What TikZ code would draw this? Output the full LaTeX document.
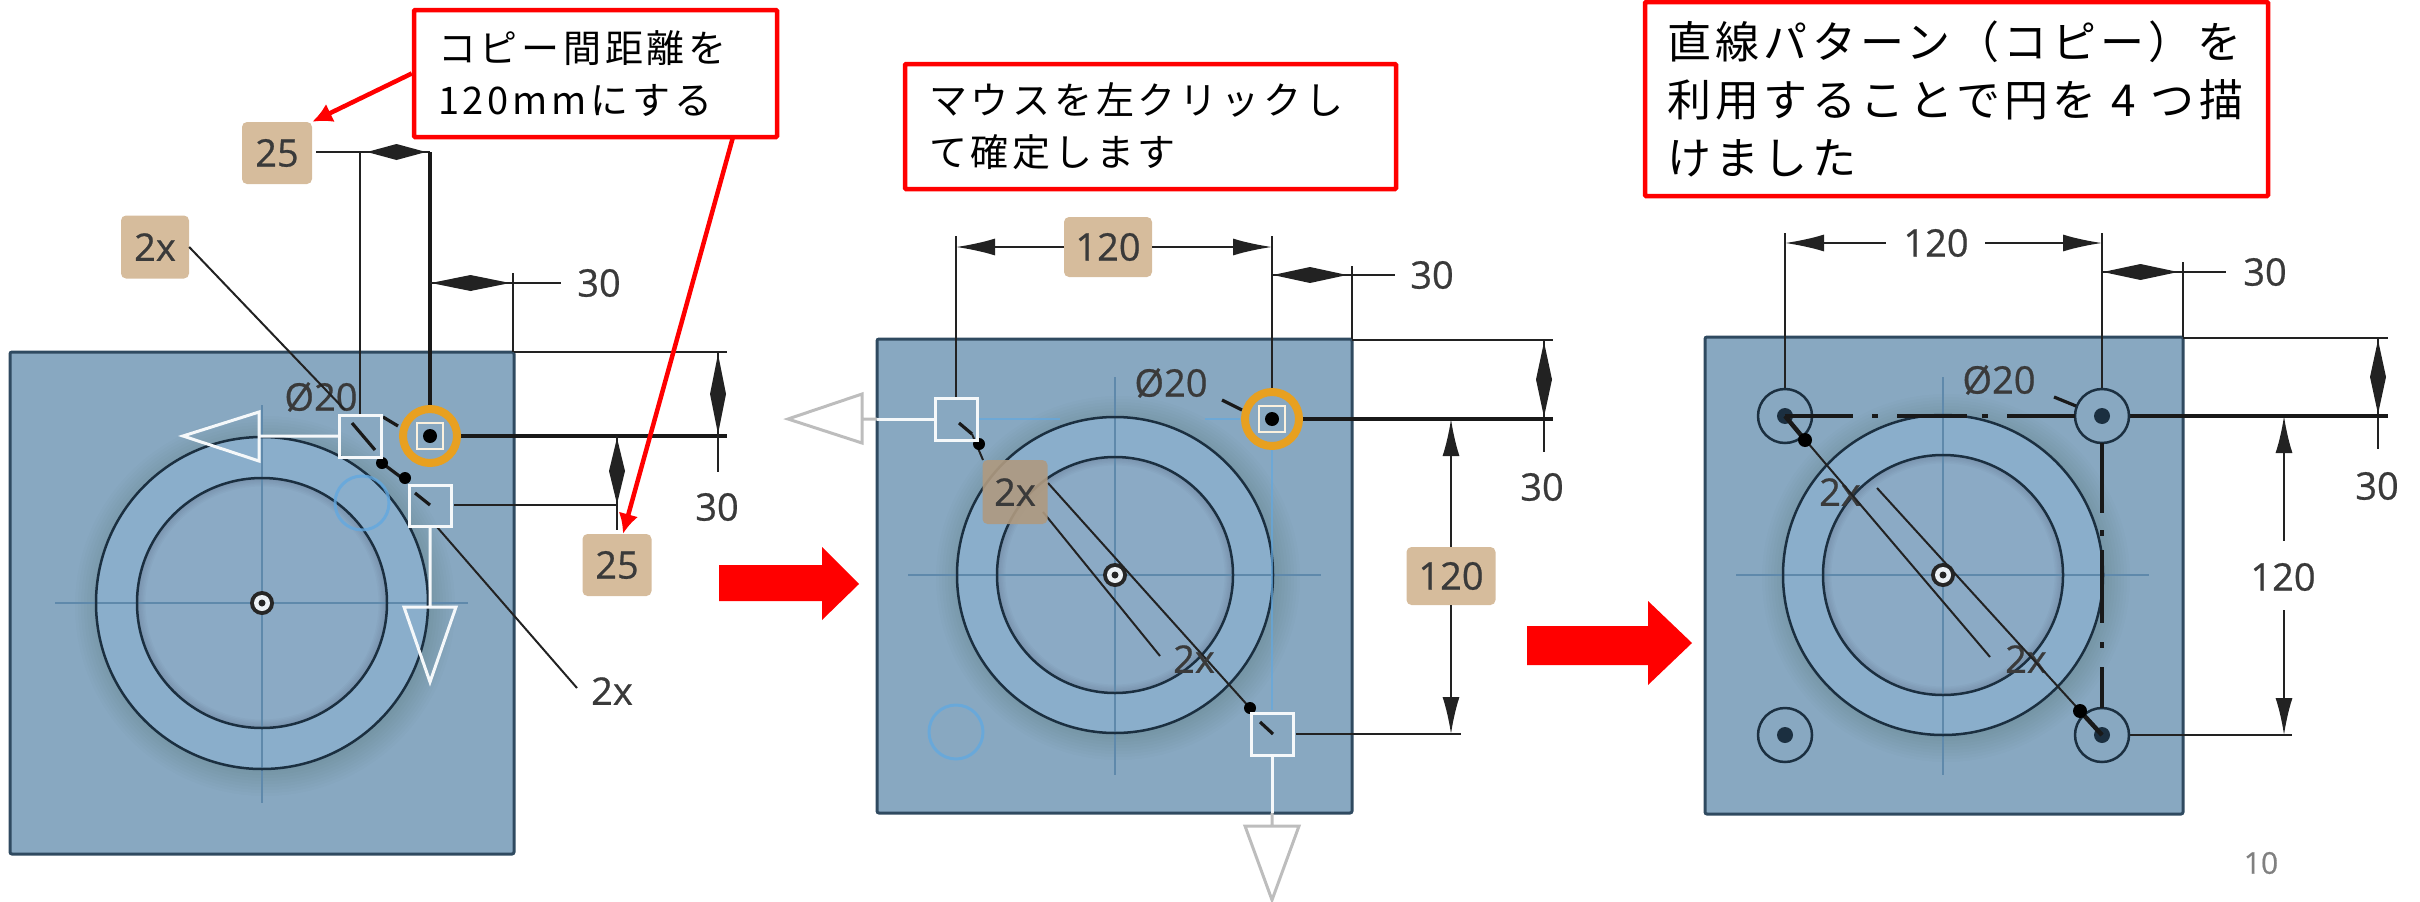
\documentclass[tikz,border=0pt]{standalone}
\usepackage{fontspec}
\setmainfont[FakeBold=0.6]{Open Sans}
\newfontfamily\jpa[LetterSpace=10]{Noto Sans CJK JP}
\usetikzlibrary{arrows.meta,calc}
\definecolor{plate}{HTML}{88A8C1}
\definecolor{ringc}{HTML}{8AAECB}
\definecolor{diskc}{HTML}{8BAAC5}
\definecolor{edgec}{HTML}{2F4A60}
\definecolor{linec}{HTML}{1B2F40}
\definecolor{dimc}{HTML}{222222}
\definecolor{crossc}{HTML}{5F89AB}
\definecolor{tagc}{HTML}{D6BC9C}
\definecolor{txtc}{HTML}{3A3A3A}
\definecolor{bluec}{HTML}{62A8E0}
\definecolor{orangec}{HTML}{E8A020}
\definecolor{grayc}{HTML}{BDBDBD}
\tikzset{
  plateb/.style={fill=plate,draw=edgec,line width=3pt,rounded corners=2pt},
  circ/.style={draw=linec,line width=2.5pt},
  dimline/.style={draw=dimc,line width=2pt},
  heavy/.style={draw=black!90,line width=3.2pt},
  crossl/.style={draw=crossc,line width=2.4pt},
  tag/.style={fill=tagc,rounded corners=5pt,text=txtc,font=\fontsize{38}{38}\selectfont,inner sep=0pt},
  dimt/.style={text=txtc,font=\fontsize{38}{38}\selectfont,inner sep=0pt},
  redbox/.style={draw=red,line width=4.5pt,rounded corners=1pt,fill=white,inner sep=0pt,align=left,text=black},
  redarrow/.style={draw=red,line width=4.5pt,-{Latex[length=20pt,width=20pt]}},
  blockarrow/.style={fill=red},
  handle/.style={draw=white!92!plate,line width=3pt},
  ghost/.style={draw=grayc,line width=3pt},
}
% two heads, tail to tail
\newcommand{\hdbl}[3]{\fill[dimc] (#1,#3)--({(#1+#2)/2},#3-8)--({(#1+#2)/2},#3+8)--cycle (#2,#3)--({(#1+#2)/2},#3-8)--({(#1+#2)/2},#3+8)--cycle;}
\newcommand{\vdbl}[3]{\fill[dimc] (#3,#1)--(#3-8,{(#1+#2)/2})--(#3+8,{(#1+#2)/2})--cycle (#3,#2)--(#3-8,{(#1+#2)/2})--(#3+8,{(#1+#2)/2})--cycle;}
% centre x, centre y, outer r, inner r
\newcommand{\flange}[4]{%
  \foreach \d in {24,21,...,0}{\fill[black,opacity=.01] (#1+3,#2+3) circle[radius=#3pt+\d pt];}
  \fill[ringc] (#1,#2) circle[radius=#3pt];
  \fill[diskc] (#1,#2) circle[radius=#4pt];
  \begin{scope}
    \clip (#1,#2) circle[radius=#4pt];
    \foreach \d in {0,3,...,15}{\draw[black,opacity=.018,line width=\d pt+2pt] (#1,#2) circle[radius=#4pt];}
  \end{scope}
  \draw[crossl] (#1-207,#2)--(#1+206,#2) (#1,#2-198)--(#1,#2+200);
  \draw[circ] (#1,#2) circle[radius=#3pt] (#1,#2) circle[radius=#4pt];
  \fill[black!85] (#1,#2) circle[radius=12pt];
  \fill[white!85!plate] (#1,#2) circle[radius=8pt];
  \fill[black!85] (#1,#2) circle[radius=3.5pt];
}
\begin{document}
\begin{tikzpicture}[x=1pt,y=-1pt]
\useasboundingbox (0,0) rectangle (2420,902);
% ---------------- panel 1
\draw[plateb] (10,352) rectangle (514,854);
\flange{262}{603}{166}{125}
\draw[bluec,line width=3pt,opacity=.8] (362,503) circle[radius=27pt];
\node[tag,minimum width=70pt,minimum height=62pt] (p1a) at (277,153) {25};
\node[tag,minimum width=68pt,minimum height=63pt] (p1x) at (155,247) {2x};
\node[tag,minimum width=69pt,minimum height=62pt] (p1b) at (617,565) {25};
\node[dimt] (p1t30) at (599,283) {30};
\node[dimt] (p1r30) at (717,507) {30};
\node[dimt] (p1d) at (321,397) {Ø20};
\node[dimt] (p1y) at (612,691) {2x};
\draw[dimline] (316,152)--(430,152) (360,152)--(360,415);
\draw[heavy] (430,152)--(430,405) (459,436)--(727,436);
\hdbl{367}{426}{152}
\draw[dimline] (430,283)--(561,283) (513,273)--(513,352);
\hdbl{431}{510}{283}
\draw[dimline] (514,352)--(727,352) (718,352)--(718,472);
\vdbl{354}{434}{718}
\draw[dimline] (454,505)--(617,505) (617,436)--(617,530);
\vdbl{438}{504}{617}
\draw[dimline] (p1x.east)--(345,410) (437,527)--(577,688);
\draw[heavy] (352,423)--(375,450) (386,466)--(402,478) (415,493)--(430,505) (383,417)--(398,426);
\fill[black] (382,463) circle[radius=6pt] (405,478) circle[radius=6pt];
\draw[orangec,line width=8pt] (430,436) circle[radius=27pt];
\draw[white!85!orangec,line width=2pt] (417,423) rectangle (443,449);
\fill[black] (430,436) circle[radius=7pt];
\draw[handle] (339,436)--(259,436) (259,412)--(259,461)--(183,436)--cycle;
\draw[handle] (339,415) rectangle (381,457);
\draw[handle] (430,526)--(430,607) (404,607)--(456,607)--(430,682)--cycle;
\draw[handle] (409,485) rectangle (451,526);
\node[redbox,minimum width=363pt,minimum height=127pt,text width=315pt,font=\jpa\fontsize{38}{52}\selectfont] (b1) at (595.5,73.5) {コピー間距離を\\120mmにする};
\coordinate (r2s) at (733,137);
\draw[redarrow] (b1.west)--(p1a.north east);
\draw[redarrow] (r2s)--([xshift=6pt]p1b.north);
\fill[blockarrow] (719,565)--(822,565)--(822,547)--(859,584)--(822,620)--(822,601)--(719,601)--cycle;
% ---------------- panel 2
\draw[plateb] (877,339) rectangle (1352,813);
\flange{1115}{575}{158}{118}
\draw[bluec,line width=3pt,opacity=.8] (956,732) circle[radius=27pt];
\draw[bluec,line width=2.5pt,opacity=.7] (977,419)--(1060,419) (1205,419)--(1240,419) (1272,450)--(1272,710);
\draw[dimline] (956,236)--(956,398) (1272,236)--(1272,390);
\draw[dimline] (1272,275)--(1395,275) (1352,266)--(1352,339);
\hdbl{1273}{1347}{275}
\draw[dimline] (1352,340)--(1553,340) (1544,340)--(1544,452);
\draw[heavy] (1303,419)--(1553,419);
\vdbl{342}{417}{1544}
\node[tag,minimum width=88pt,minimum height=60pt] (p2a) at (1108,247) {120};
\node[tag,minimum width=89pt,minimum height=58pt] (p2b) at (1451,576) {120};
\coordinate (p2l) at (956,247);
\coordinate (p2r) at (1272,247);
\coordinate (p2u) at (1451,419);
\coordinate (p2d) at (1451,734);
\draw[dimline,{Latex[length=39pt,width=17pt]}-] (p2l)--(p2a.west);
\draw[dimline,-{Latex[length=39pt,width=17pt]}] (p2a.east)--(p2r);
\draw[dimline,{Latex[length=37pt,width=17pt]}-] (p2u)--(p2b.north);
\draw[dimline,-{Latex[length=37pt,width=17pt]}] (p2b.south)--(p2d);
\draw[dimline] (1296,734)--(1461,734);
\draw[dimline] (1048,483)--(1250,708) (1043,512)--(1160,656) (972,434)--(983,460);
\node[tag,fill=tagc!82!black,opacity=.9,text opacity=1,minimum width=65pt,minimum height=64pt] (p2x) at (1015,492) {2x};
\node[dimt] (p2y) at (1194,659) {2x};
\node[dimt] (p2t30) at (1432,275) {30};
\node[dimt] (p2r30) at (1542,487) {30};
\node[dimt] (p2d0) at (1171,383) {Ø20};
\draw[heavy] (959,423)--(972,434) (1260,722)--(1273,734) (1222,400)--(1242,410);
\fill[black] (979,444) circle[radius=6pt] (1250,708) circle[radius=6pt];
\draw[orangec,line width=8pt] (1272,419) circle[radius=27pt];
\draw[white!85!orangec,line width=2pt] (1259,406) rectangle (1285,432);
\fill[black] (1272,419) circle[radius=7pt];
\draw[handle] (877,419)--(936,419);
\draw[ghost] (862,419)--(877,419) (862,394)--(862,443)--(788,419)--cycle;
\draw[handle] (935,398) rectangle (977,440);
\draw[handle] (1272,755)--(1272,813);
\draw[ghost] (1272,813)--(1272,826) (1245,826)--(1299,826)--(1272,900)--cycle;
\draw[handle] (1251,713) rectangle (1293,755);
\node[redbox,minimum width=491pt,minimum height=125pt,text width=443pt,font=\jpa\fontsize{38}{52}\selectfont] (b2) at (1150.5,126.5) {マウスを左クリックし\\て確定します};
\fill[blockarrow] (1527,626)--(1648,626)--(1648,601)--(1692,643)--(1648,685)--(1648,665)--(1527,665)--cycle;
% ---------------- panel 3
\draw[plateb] (1705,337) rectangle (2183,814);
\flange{1943}{575}{160}{120}
\draw[dimline] (1785,233)--(1785,388) (2102,233)--(2102,388);
\node[dimt] (p3a) at (1936,243) {120};
\node[dimt] (p3b) at (2283,577) {120};
\coordinate (p3l) at (1785,243);
\coordinate (p3r) at (2102,243);
\coordinate (p3u) at (2284,416);
\coordinate (p3d) at (2284,735);
\draw[dimline,{Latex[length=39pt,width=17pt]}-] (p3l)--(1886,243);
\draw[dimline,-{Latex[length=39pt,width=17pt]}] (1985,243)--(p3r);
\draw[dimline,{Latex[length=37pt,width=17pt]}-] (p3u)--(2284,541);
\draw[dimline,-{Latex[length=37pt,width=17pt]}] (2284,610)--(p3d);
\draw[dimline] (2102,272)--(2226,272) (2183,262)--(2183,337);
\hdbl{2103}{2178}{272}
\draw[dimline] (2183,338)--(2388,338) (2378,338)--(2378,449) (2130,735)--(2292,735);
\draw[heavy] (2130,416)--(2388,416);
\vdbl{340}{414}{2378}
\node[dimt] (p3t30) at (2265,272) {30};
\node[dimt] (p3r30) at (2377,486) {30};
\node[dimt] (p3d0) at (1999,380) {Ø20};
\node[dimt] (p3x) at (1840,492) {2x};
\node[dimt] (p3y) at (2026,659) {2x};
\draw[circ] (1785,416) circle[radius=27pt] (2102,416) circle[radius=27pt] (1785,735) circle[radius=27pt] (2102,735) circle[radius=27pt];
\fill[linec] (1785,416) circle[radius=8pt] (2102,416) circle[radius=8pt] (1785,735) circle[radius=8pt] (2102,735) circle[radius=8pt];
\draw[heavy,line width=3.8pt] (1785,416)--(1853,416) (1872,416)--(1878,416) (1897,416)--(1967,416) (1982,416)--(1988,416) (2007,416)--(2075,416);
\draw[heavy,line width=3.8pt] (2102,443)--(2102,513) (2102,530)--(2102,536) (2102,550)--(2102,623) (2102,642)--(2102,648) (2102,667)--(2102,708);
\draw[dimline] (1785,416)--(1990,657) (1877,488)--(2102,735);
\draw[heavy,line width=4.5pt] (1785,416)--(1805,440) (2080,711)--(2102,735);
\draw[heavy] (2054,397)--(2076,406);
\fill[black] (1805,440) circle[radius=7pt] (2080,711) circle[radius=7pt];
\node[redbox,minimum width=623pt,minimum height=194pt,text width=579pt,font=\jpa\fontsize{44}{58}\selectfont] (b3) at (1956.5,99) {直線パターン（コピー）を\\利用することで円を 4 つ描\\けました};
\node[text=black!50,inner sep=0pt,font=\fontsize{30}{30}\selectfont] (pg) at (2261,863) {10};
\end{tikzpicture}
\end{document}
